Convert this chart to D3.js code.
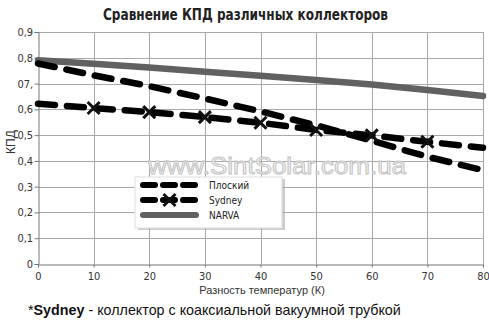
<!DOCTYPE html>
<html>
<head>
<meta charset="utf-8">
<script src="https://cdn.jsdelivr.net/npm/d3@7"></script>
<style>
  body { margin: 0; background: #fff; }
  svg { display: block; }
  .cond { font-family: "DejaVu Sans Condensed", "Liberation Sans Narrow", "Liberation Sans", Arial, sans-serif; }
</style>
</head>
<body>
<svg id="chart" width="489" height="325"></svg>
<script>
let temps = [0, 10, 20, 30, 40, 50, 60, 70, 80];
let flatVals = [0.778, 0.732, 0.69, 0.642, 0.592, 0.538, 0.478, 0.416, 0.364];
let sydneyVals = [0.622, 0.605, 0.589, 0.57, 0.548, 0.52, 0.499, 0.474, 0.451];
let narvaVals = [0.79, 0.777, 0.762, 0.746, 0.73, 0.714, 0.696, 0.675, 0.652];
let sydneyMarkers = [10, 20, 30, 40, 50, 60, 70];
let yTicks = [0, 0.1, 0.2, 0.3, 0.4, 0.5, 0.6, 0.7, 0.8, 0.9];
let yTickLabels = ["0", "0,1", "0,2", "0,3", "0,4", "0,5", "0,6", "07,", "0,8", "0,9"];
let seriesNames = ["Плоский", "Sydney", "NARVA"];

let svg = d3.select("#chart");
let plotLeft = 38, plotRight = 483, plotTop = 32, plotBottom = 264;

let x = d3.scaleLinear().domain([0, 80]).range([plotLeft, plotRight]);
let y = d3.scaleLinear().domain([0, 0.9]).range([plotBottom, plotTop]);

// title
svg.append("text")
    .attr("class", "cond")
    .attr("x", 103).attr("y", 20)
    .attr("font-size", 16).attr("font-weight", "bold")
    .attr("textLength", 285).attr("lengthAdjust", "spacingAndGlyphs")
    .attr("fill", "#222")
    .text("Сравнение КПД различных коллекторов");

// grid
let grid = svg.append("g").attr("stroke", "#a8a8a8").attr("stroke-width", 1);
grid.selectAll(".gy").data(yTicks.slice(1)).enter().append("line")
    .attr("x1", plotLeft).attr("x2", plotRight)
    .attr("y1", d => Math.round(y(d)) + 0.5).attr("y2", d => Math.round(y(d)) + 0.5);
grid.selectAll(".gx").data(temps.slice(1)).enter().append("line")
    .attr("y1", plotTop).attr("y2", plotBottom)
    .attr("x1", d => Math.round(x(d)) + 0.5).attr("x2", d => Math.round(x(d)) + 0.5);

// axes
let yAxis = d3.axisLeft(y).tickValues(yTicks).tickSize(4)
    .tickFormat((d, i) => yTickLabels[i]);
let gy = svg.append("g").attr("transform", `translate(${plotLeft + 0.5},0)`).call(yAxis);
let xAxis = d3.axisBottom(x).tickValues(temps).tickSize(3);
let gx = svg.append("g").attr("transform", `translate(0,${plotBottom + 0.5})`).call(xAxis);
[gy, gx].forEach(g => {
    g.selectAll("path, line").attr("stroke", "#777");
    g.selectAll("text").attr("class", "cond").attr("font-size", 11).attr("fill", "#333");
});
gy.selectAll("text").attr("dx", "0.15em");
gx.selectAll("text").attr("dy", "0.85em");

// axis titles
svg.append("text")
    .attr("transform", "translate(15,142) rotate(-90)")
    .attr("text-anchor", "middle")
    .attr("font-family", "Liberation Sans, Arial, sans-serif")
    .attr("font-size", 12).attr("fill", "#333")
    .text("КПД");
svg.append("text")
    .attr("x", 262).attr("y", 294)
    .attr("text-anchor", "middle")
    .attr("font-family", "Liberation Sans, Arial, sans-serif")
    .attr("font-size", 11).attr("fill", "#333")
    .text("Разность температур (К)");

// watermark
svg.append("text")
    .attr("x", 148).attr("y", 174)
    .attr("font-family", "Liberation Sans, Arial, sans-serif")
    .attr("font-size", 24)
    .attr("textLength", 258).attr("lengthAdjust", "spacingAndGlyphs")
    .attr("fill", "#f6f6f6").attr("stroke", "#c4c4c4").attr("stroke-width", 1)
    .text("www.SintSolar.com.ua");

// lines
let line = vals => d3.line().x((d, i) => x(temps[i])).y(d => y(d))(vals);

svg.append("path").attr("d", line(narvaVals))
    .attr("fill", "none").attr("stroke", "#616161").attr("stroke-width", 6.5)
    .attr("stroke-linecap", "round");
svg.append("path").attr("d", line(flatVals))
    .attr("fill", "none").attr("stroke", "#000").attr("stroke-width", 6.5)
    .attr("stroke-linecap", "round").attr("stroke-dasharray", "17,12");
svg.append("path").attr("d", line(sydneyVals))
    .attr("fill", "none").attr("stroke", "#000").attr("stroke-width", 6.5)
    .attr("stroke-linecap", "round").attr("stroke-dasharray", "17,12");

let markerPath = "M-6,-6L6,6M-6,6L6,-6";
svg.selectAll(".mk").data(sydneyMarkers).enter().append("path")
    .attr("transform", d => `translate(${x(d)},${y(sydneyVals[temps.indexOf(d)])})`)
    .attr("d", markerPath)
    .attr("stroke", "#111").attr("stroke-width", 3);

// legend
let lg = svg.append("g").attr("transform", "translate(135,177)");
lg.append("rect").attr("x", 3).attr("y", 2).attr("width", 147).attr("height", 51)
    .attr("fill", "#aaa").attr("opacity", 0.6);
lg.append("rect").attr("width", 147).attr("height", 51)
    .attr("fill", "#fff").attr("stroke", "#ddd");
let rows = [
    { dash: "12,8", color: "#000", marker: false },
    { dash: "12,8", color: "#000", marker: true },
    { dash: null, color: "#616161", marker: false }
];
rows.forEach((r, i) => {
    let ry = 8 + i * 15;
    let l = lg.append("line").attr("x1", 8).attr("x2", 61).attr("y1", ry).attr("y2", ry)
        .attr("stroke", r.color).attr("stroke-width", 6).attr("stroke-linecap", "round");
    if (r.dash) l.attr("stroke-dasharray", r.dash);
    if (r.marker) {
        lg.append("path").attr("transform", `translate(34.5,${ry})`)
            .attr("d", markerPath).attr("stroke", "#111").attr("stroke-width", 3);
    }
    lg.append("text").attr("class", "cond")
        .attr("x", 74).attr("y", ry + 4)
        .attr("font-size", 10).attr("fill", "#222")
        .text(seriesNames[i]);
});

// footnote
let fn = svg.append("text")
    .attr("x", 28).attr("y", 315)
    .attr("font-family", "Liberation Sans, Arial, sans-serif")
    .attr("font-size", 14.3).attr("fill", "#111");
fn.append("tspan").text("*");
fn.append("tspan").attr("font-weight", "bold").text("Sydney");
fn.append("tspan").text(" - коллектор с коаксиальной вакуумной трубкой");
</script>
</body>
</html>
